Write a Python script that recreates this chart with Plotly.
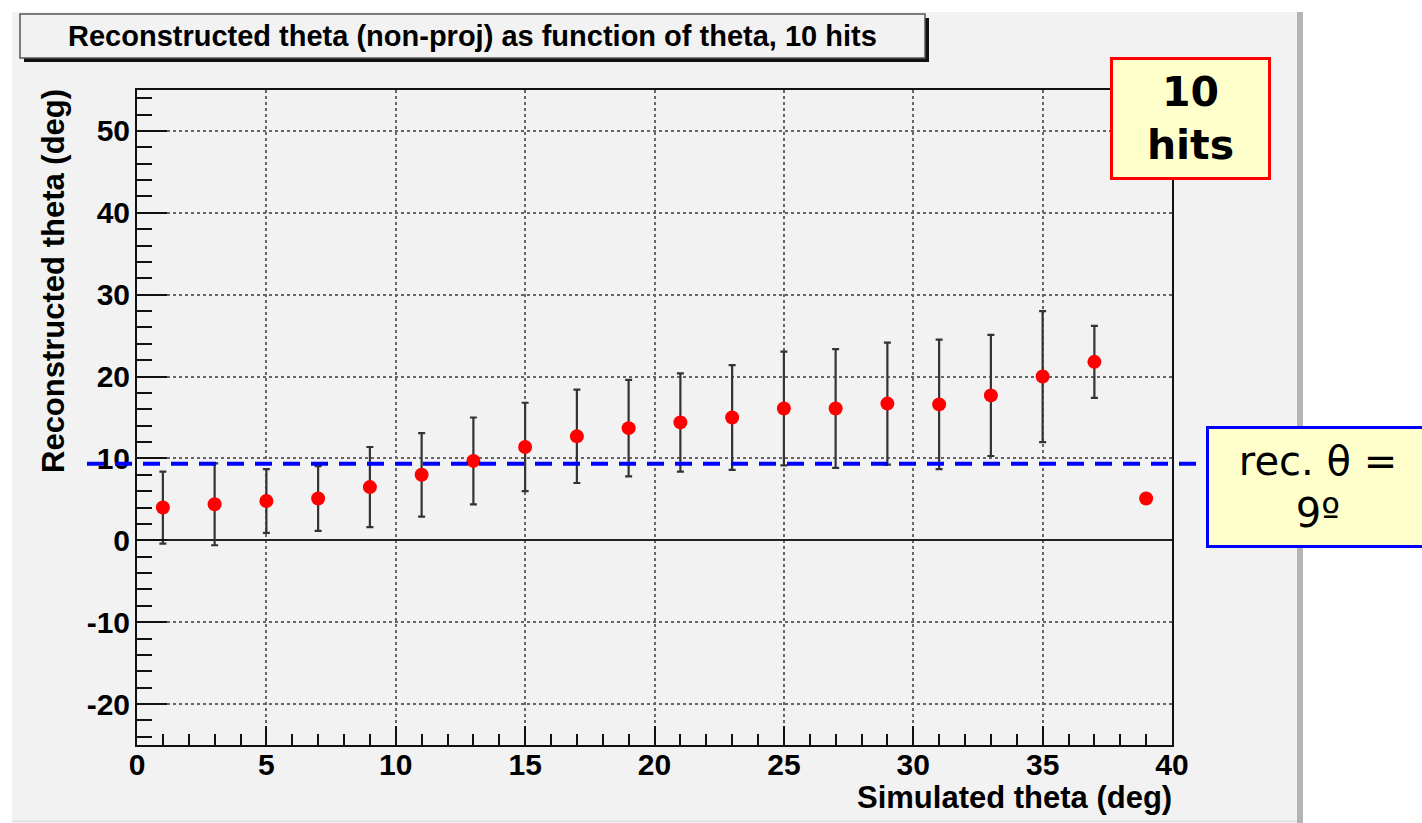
import plotly.graph_objects as go

# ---- data ----
sim_theta = [1, 3, 5, 7, 9, 11, 13, 15, 17, 19, 21, 23, 25, 27, 29, 31, 33, 35, 37, 39]
rec_theta = [4.0, 4.4, 4.8, 5.1, 6.5, 8.0, 9.7, 11.4, 12.7, 13.7, 14.4, 15.0, 16.1, 16.1, 16.7, 16.6, 17.7, 20.0, 21.8, 5.1]
rec_err = [4.4, 5.0, 3.9, 3.95, 4.9, 5.1, 5.3, 5.4, 5.7, 5.9, 6.0, 6.4, 6.95, 7.25, 7.45, 7.9, 7.4, 8.0, 4.4, 0.0]
rec_line_value = 9.35
x_range = [0, 40]
y_range = [-25, 55]
x_tick_vals = [0, 5, 10, 15, 20, 25, 30, 35, 40]
x_tick_labels = ["0", "5", "10", "15", "20", "25", "30", "35", "40"]
y_tick_vals = [-20, -10, 0, 10, 20, 30, 40, 50]
y_tick_labels = ["-20", "-10", "0", "10", "20", "30", "40", "50"]
title_text = "Reconstructed theta (non-proj) as function of theta, 10 hits"
x_title = "Simulated theta (deg)"
y_title = "Reconstructed theta (deg)"
hits_label = "<b>10<br>hits</b>"
rec_label = "rec. \u03b8 =<br>9\u00ba"

# ---- layout geometry (pixels) ----
WIDTH, HEIGHT = 1422, 823
L, R, T, B = 137, 1172, 90, 745
W, H = R - L, B - T


def px(xp):
    return (xp - L) / W


def py(yp):
    return (B - yp) / H


def yval(v):
    return (v - y_range[0]) / (y_range[1] - y_range[0])


CANVAS = "#f2f2f2"
FONT = "Liberation Sans"

fig = go.Figure()
fig.add_trace(go.Scatter(
    x=sim_theta, y=rec_theta, mode="markers",
    marker=dict(color="#ff0000", size=14, line=dict(width=0)),
    error_y=dict(type="data", array=rec_err, visible=True,
                 color="#333333", thickness=2.2, width=3.5),
    showlegend=False, cliponaxis=False,
))

shapes = [
    # canvas
    dict(type="rect", xref="paper", yref="paper", layer="below",
         x0=px(12), x1=px(1297), y0=py(821), y1=py(12),
         fillcolor=CANVAS, line=dict(width=0)),
    # right edge shadow
    dict(type="rect", xref="paper", yref="paper", layer="below",
         x0=px(1297), x1=px(1303), y0=py(823), y1=py(12),
         fillcolor="#b4b4b4", line=dict(width=0)),
    # bottom light edge
    dict(type="line", xref="paper", yref="paper", layer="below",
         x0=px(12), x1=px(1297), y0=py(821.5), y1=py(821.5),
         line=dict(color="#dcdcdc", width=1.5)),
    # title box shadow
    dict(type="rect", xref="paper", yref="paper", layer="above",
         x0=px(24), x1=px(929), y0=py(62), y1=py(18),
         fillcolor="#111111", line=dict(width=0)),
    # title box
    dict(type="rect", xref="paper", yref="paper", layer="above",
         x0=px(20), x1=px(925), y0=py(58), y1=py(14),
         fillcolor=CANVAS, line=dict(color="#555555", width=1.5)),
    # rec theta dashed line
    dict(type="line", xref="paper", yref="paper", layer="above",
         x0=px(87), x1=px(1207), y0=yval(rec_line_value), y1=yval(rec_line_value),
         line=dict(color="#0000ff", width=4, dash="17px,11px")),
]

annotations = [
    dict(text="<b>" + title_text + "</b>", xref="paper", yref="paper",
         x=px(472), y=py(36), xanchor="center", yanchor="middle",
         showarrow=False, font=dict(family=FONT, size=29, color="black")),
    dict(text="<b>" + x_title + "</b>", xref="paper", yref="paper",
         x=px(1174), y=py(797), xanchor="right", yanchor="middle",
         showarrow=False, font=dict(family=FONT, size=31, color="black")),
    dict(text="<b>" + y_title + "</b>", xref="paper", yref="paper",
         x=px(53), y=py(87), xanchor="center", yanchor="top", textangle=-90,
         showarrow=False, font=dict(family=FONT, size=31, color="black")),
    dict(text=hits_label, xref="paper", yref="paper",
         x=px(1190.5), y=py(118.5), xanchor="center", yanchor="middle",
         showarrow=False, bgcolor="#ffffcc", bordercolor="#ff0000",
         borderwidth=3, borderpad=0, width=155, height=117,
         font=dict(family="DejaVu Sans", size=41, color="black")),
    dict(text=rec_label, xref="paper", yref="paper",
         x=px(1318), y=py(487), xanchor="center", yanchor="middle",
         showarrow=False, bgcolor="#ffffcc", bordercolor="#0000ff",
         borderwidth=3, borderpad=0, width=218, height=116,
         font=dict(family="DejaVu Sans", size=40, color="black")),
]

axis_common = dict(
    showline=True, linecolor="#111111", linewidth=2, mirror=True,
    ticks="inside", tickcolor="#111111", tickwidth=2,
    showgrid=True, gridcolor="#666666", gridwidth=1.6, griddash="dot",
    tickfont=dict(family=FONT, size=30, color="black"),
    tickmode="array",
)

fig.update_layout(
    width=WIDTH, height=HEIGHT,
    margin=dict(l=L, r=WIDTH - R, t=T, b=HEIGHT - B, pad=0),
    paper_bgcolor="white", plot_bgcolor=CANVAS,
    shapes=shapes, annotations=annotations,
    xaxis=dict(range=x_range, tickvals=x_tick_vals,
               ticktext=["<b>" + t + "</b>" for t in x_tick_labels],
               ticklen=19, zeroline=False, ticklabelstandoff=-8,
               minor=dict(dtick=1, tick0=0, ticklen=11, tickwidth=2, tickcolor="#111111",
                          ticks="inside", showgrid=False),
               **axis_common),
    yaxis=dict(range=y_range, tickvals=y_tick_vals,
               ticktext=["<b>" + t + "</b>" for t in y_tick_labels],
               ticklen=30, ticklabelstandoff=-1,
               zeroline=True, zerolinecolor="#222222", zerolinewidth=2,
               minor=dict(dtick=2, tick0=0, ticklen=15, tickwidth=2, tickcolor="#111111",
                          ticks="inside", showgrid=False),
               **axis_common),
)

fig.write_html("out.html")
